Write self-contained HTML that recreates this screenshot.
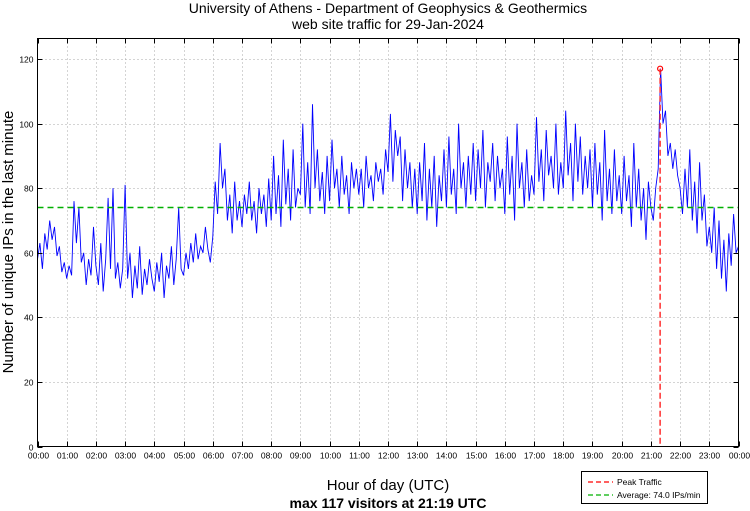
<!DOCTYPE html>
<html><head><meta charset="utf-8"><style>
body{margin:0;background:#fff;}
svg{display:block;font-family:"Liberation Sans",sans-serif;}
</style></head><body>
<svg id="chart" width="750" height="511" viewBox="0 0 750 511" xmlns="http://www.w3.org/2000/svg">
<text x="388" y="13" font-size="14" text-anchor="middle">University of Athens - Department of Geophysics &amp; Geothermics</text>
<text x="388" y="29" font-size="14" text-anchor="middle">web site traffic for 29-Jan-2024</text>
<text transform="translate(13,242) rotate(-90)" font-size="15" text-anchor="middle">Number of unique IPs in the last minute</text>
<text x="388" y="490" font-size="15" text-anchor="middle">Hour of day (UTC)</text>
<text x="388" y="508" font-size="14" font-weight="bold" text-anchor="middle">max 117 visitors at 21:19 UTC</text>
<g id="grid"></g>
<g id="series"></g>
<rect x="37.5" y="38.5" width="701" height="408" fill="none" stroke="#000" stroke-width="1"/>
<g id="axes"></g>
<g>
<rect x="581.5" y="471.5" width="126" height="32" fill="#fff" stroke="#000"/>
<line x1="588" y1="482" x2="613" y2="482" stroke="#f00" stroke-width="1.3" stroke-dasharray="5,3"/>
<text x="617" y="485" font-size="8.5">Peak Traffic</text>
<line x1="588" y1="495" x2="613" y2="495" stroke="#00b000" stroke-width="1.3" stroke-dasharray="5,3"/>
<text x="617" y="498" font-size="8.5">Average: 74.0 IPs/min</text>
</g>
</svg>
<script>
const yTicks=[0,20,40,60,80,100,120];
const xTickLabels=["00:00","01:00","02:00","03:00","04:00","05:00","06:00","07:00","08:00","09:00","10:00","11:00","12:00","13:00","14:00","15:00","16:00","17:00","18:00","19:00","20:00","21:00","22:00","23:00","00:00"];
const stepMinutes=5;
const visitors=[
58,63,55,66,61,70,64,68,59,62,54,57,
52,56,53,76,63,74,57,60,50,58,53,68,
56,50,63,48,58,77,55,80,52,57,49,55,
81,52,60,46,56,49,62,47,55,50,58,52,
48,57,51,60,46,56,52,62,50,58,74,55,
53,60,55,63,57,66,58,62,60,68,61,57,
65,82,72,94,80,86,70,78,66,82,70,76,
68,78,72,82,70,76,66,80,72,78,68,83,
70,90,72,84,68,95,75,86,70,92,74,80,
78,100,74,88,72,106,80,92,76,85,72,90,
76,95,80,86,74,90,78,84,72,88,80,86,
78,86,74,90,80,84,76,88,82,86,78,92,
85,103,82,98,90,96,76,92,80,88,74,86,
72,88,76,94,70,86,74,90,68,84,76,92,
74,96,78,86,72,100,80,88,74,90,78,94,
76,92,80,98,74,88,82,94,76,90,80,86,
72,96,78,90,70,100,80,88,74,92,76,84,
78,102,82,92,76,98,84,90,80,100,78,88,
80,104,84,94,76,100,82,96,78,90,80,92,
74,94,78,88,70,98,76,86,72,92,76,84,
72,90,76,84,68,94,74,86,70,80,64,82,
74,70,80,86,117,100,104,90,94,86,92,84,
80,72,86,74,92,70,82,66,88,70,78,62,
68,60,74,55,70,52,64,48,66,56,72,60,62];
const averageValue=[74.0];
const peakMinute=[1279];
const peakValue=[117];

const NS="http://www.w3.org/2000/svg";
const X0=37.5,X1=738.5,Y0=446.5,YTOP=38.5;
const xScale=m=>X0+(X1-X0)*m/1440;
const yScale=v=>Y0-(Y0-59)*v/120;
function mk(tag,attrs,parent){const e=document.createElementNS(NS,tag);for(const k in attrs)e.setAttribute(k,attrs[k]);parent.appendChild(e);return e;}
const grid=document.getElementById('grid'),axes=document.getElementById('axes'),series=document.getElementById('series');
yTicks.forEach(v=>{
  const y=Math.round(yScale(v))+0.5;
  if(v>0){const g=mk('line',{x1:X0,x2:X1,y1:y,y2:y,stroke:'#aaa','stroke-dasharray':'1,3','stroke-width':1},grid);
  
  }
  const t=mk('line',{x1:X0,x2:X0+5,y1:y,y2:y,stroke:'#000'},axes);
  
  
  const t2=mk('line',{x1:X1-5,x2:X1,y1:y,y2:y,stroke:'#000'},axes);
  
  
  const l=mk('text',{x:X0-4,y:y+3,'font-size':8.5,'text-anchor':'end',fill:'#000'},axes);
  l.textContent=v;
  
  
});
xTickLabels.forEach((s,i)=>{
  const x=Math.round(xScale(i*60))+0.5;
  if(i>0&&i<24){const g=mk('line',{x1:x,x2:x,y1:YTOP,y2:Y0,stroke:'#aaa','stroke-dasharray':'1,3','stroke-width':1},grid);
  
  }
  const t=mk('line',{x1:x,x2:x,y1:Y0-5,y2:Y0,stroke:'#000'},axes);
  
  
  const t2=mk('line',{x1:x,x2:x,y1:YTOP,y2:YTOP+5,stroke:'#000'},axes);
  
  
  const l=mk('text',{x:x,y:Y0+12,'font-size':8.5,'text-anchor':'middle',fill:'#000'},axes);
  l.textContent=s;
  
  
});
const pts=visitors.map((v,i)=>xScale(i*stepMinutes).toFixed(1)+','+yScale(v).toFixed(1)).join(' ');
const line=mk('polyline',{points:pts,fill:'none',stroke:'#0000ff','stroke-width':0.9,'stroke-linejoin':'miter'},series);


const ay=yScale(averageValue[0]);
const avg=mk('line',{x1:X0,x2:X1,y1:ay,y2:ay,stroke:'#00b000','stroke-width':1.5,'stroke-dasharray':'6,4'},series);


const px=xScale(peakMinute[0]),py=yScale(peakValue[0]);
const pl=mk('line',{x1:px,x2:px,y1:py,y2:Y0,stroke:'#ff3030','stroke-width':1.5,'stroke-dasharray':'6,3'},series);


const pm=mk('circle',{cx:px,cy:py,r:2.5,fill:'none',stroke:'#f00','stroke-width':1.2},series);


</script>
</body></html>
